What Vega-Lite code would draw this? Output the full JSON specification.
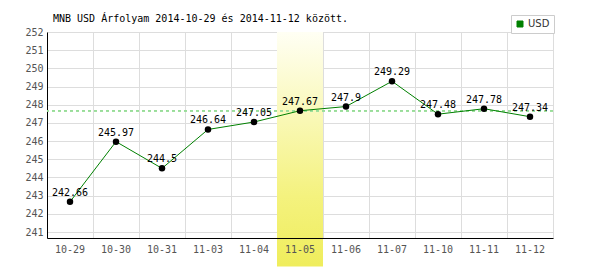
{
  "$schema": "https://vega.github.io/schema/vega-lite/v6.json",
  "width": 506,
  "height": 206,
  "autosize": "none",
  "padding": {"left": 47, "top": 32, "right": 47, "bottom": 32},
  "background": "white",
  "config": {
    "view": {"stroke": "#dddddd", "strokeWidth": 1},
    "font": "DejaVu Sans Mono",
    "axisY": {
      "values": [241, 242, 243, 244, 245, 246, 247, 248, 249, 250, 251, 252],
      "labelOverlap": false,
      "ticks": false, "domain": true, "domainColor": "#000000", "domainWidth": 1,
      "grid": true, "gridColor": "#dddddd", "gridWidth": 1,
      "labelFont": "DejaVu Sans Mono", "labelFontSize": 10, "labelColor": "#555555",
      "labelPadding": 4, "title": null
    }
  },
  "title": {
    "text": "MNB USD Árfolyam 2014-10-29 és 2014-11-12 között.",
    "anchor": "start",
    "frame": "group",
    "font": "DejaVu Sans Mono",
    "fontSize": 10,
    "fontWeight": "normal",
    "color": "#000000",
    "baseline": "alphabetic",
    "offset": -17,
    "dx": 6
  },
  "data": {
    "values": [
      {"date": "10-29", "rate": 242.66, "label": "242.66"},
      {"date": "10-30", "rate": 245.97, "label": "245.97"},
      {"date": "10-31", "rate": 244.5, "label": "244.5"},
      {"date": "11-03", "rate": 246.64, "label": "246.64"},
      {"date": "11-04", "rate": 247.05, "label": "247.05"},
      {"date": "11-05", "rate": 247.67, "label": "247.67"},
      {"date": "11-06", "rate": 247.9, "label": "247.9"},
      {"date": "11-07", "rate": 249.29, "label": "249.29"},
      {"date": "11-10", "rate": 247.48, "label": "247.48"},
      {"date": "11-11", "rate": 247.78, "label": "247.78"},
      {"date": "11-12", "rate": 247.34, "label": "247.34"}
    ]
  },
  "resolve": {"axis": {"x": "independent"}},
  "layer": [
    {
      "transform": [{"filter": "datum.date == '11-05'"}],
      "mark": {
        "type": "rect",
        "fill": {
          "gradient": "linear",
          "x1": 0, "y1": 0, "x2": 0, "y2": 1,
          "stops": [
            {"offset": 0, "color": "#fffff4"},
            {"offset": 0.7, "color": "#f4f27e"},
            {"offset": 1, "color": "#efed5c"}
          ]
        }
      },
      "encoding": {
        "x": {
          "field": "date", "type": "nominal",
          "scale": {
            "type": "band", "paddingInner": 0, "paddingOuter": 0,
            "domain": ["10-29", "10-30", "10-31", "11-03", "11-04", "11-05", "11-06", "11-07", "11-10", "11-11", "11-12"]
          },
          "axis": {
            "orient": "bottom",
            "title": null, "labels": false, "ticks": false, "domain": false,
            "grid": true, "gridColor": "#dddddd", "gridWidth": 1,
            "bandPosition": 0, "zindex": 0
          }
        },
        "y": {
          "datum": 252,
          "type": "quantitative",
          "scale": {"domain": [240.67, 252], "nice": false, "zero": false},
          "axis": {"values": [241, 242, 243, 244, 245, 246, 247, 248, 249, 250, 251, 252], "labelOverlap": false}
        },
        "y2": {"datum": 239.1}
      }
    },
    {
      "mark": {"type": "rule", "stroke": "#99dd99", "strokeDash": [3, 3], "strokeWidth": 1},
      "encoding": {"y": {"datum": 247.67, "type": "quantitative", "axis": {"values": [241, 242, 243, 244, 245, 246, 247, 248, 249, 250, 251, 252], "labelOverlap": false}}}
    },
    {
      "mark": {"type": "line", "strokeWidth": 1},
      "encoding": {
        "x": {
          "field": "date", "type": "nominal",
          "axis": {
            "orient": "bottom",
            "title": null, "labels": true, "ticks": false, "grid": false,
            "domain": true, "domainColor": "#000000", "domainWidth": 1,
            "labelFont": "DejaVu Sans Mono", "labelFontSize": 10, "labelColor": "#555555",
            "labelPadding": 6, "labelAngle": 0, "zindex": 1
          }
        },
        "y": {"field": "rate", "type": "quantitative", "axis": {"values": [241, 242, 243, 244, 245, 246, 247, 248, 249, 250, 251, 252], "labelOverlap": false}},
        "color": {
          "datum": "USD",
          "scale": {"range": ["#008000"]},
          "legend": {
            "title": null,
            "orient": "none",
            "legendX": 464,
            "legendY": -17,
            "padding": 4,
            "strokeColor": "#cccccc",
            "fillColor": "#ffffff",
            "symbolType": "square",
            "symbolSize": 36,
            "symbolStrokeWidth": 1,
            "symbolStrokeColor": "#005000",
            "symbolFillColor": "#008000",
            "labelFont": "DejaVu Sans",
            "labelFontSize": 10,
            "labelColor": "#333333",
            "labelOffset": 3,
            "encode": {"symbols": {"update": {"fill": {"value": "#008000"}, "stroke": {"value": "#005000"}}}}
          }
        }
      }
    },
    {
      "mark": {"type": "point", "filled": true, "color": "#000000", "size": 42, "opacity": 1},
      "encoding": {
        "x": {"field": "date", "type": "nominal", "axis": null},
        "y": {"field": "rate", "type": "quantitative", "axis": {"values": [241, 242, 243, 244, 245, 246, 247, 248, 249, 250, 251, 252], "labelOverlap": false}}
      }
    },
    {
      "mark": {"type": "text", "font": "DejaVu Sans Mono", "fontSize": 10, "color": "#000000", "baseline": "alphabetic", "dy": -6},
      "encoding": {
        "x": {"field": "date", "type": "nominal", "axis": null},
        "y": {"field": "rate", "type": "quantitative", "axis": {"values": [241, 242, 243, 244, 245, 246, 247, 248, 249, 250, 251, 252], "labelOverlap": false}},
        "text": {"field": "label"}
      }
    }
  ]
}
